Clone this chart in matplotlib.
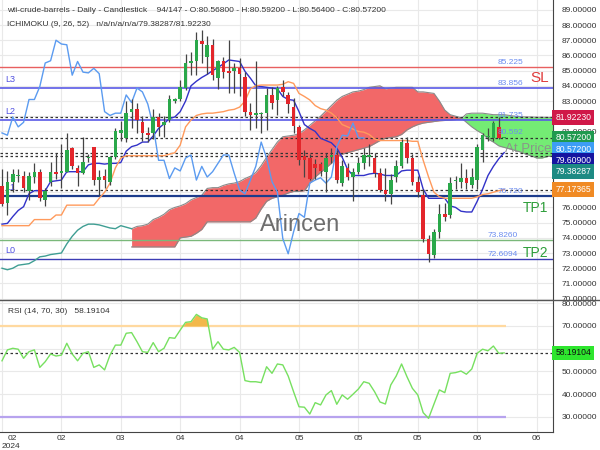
import numpy as np
import matplotlib
matplotlib.use("Agg")
import matplotlib.pyplot as plt
import matplotlib.transforms as mtransforms
from matplotlib.lines import Line2D

plt.rcParams['font.family'] = ['Liberation Sans', 'DejaVu Sans']

# candles (94 daily bars)
opens = [77.4, 76.3, 77.7, 78.1, 78.1, 77.1, 78.0, 78.3, 76.5, 77.7,
         78.35, 78.25, 78.35, 79.9, 78.6, 78.25, 79.25, 80.0, 77.8, 78.1,
         77.7, 79.3, 80.9, 80.55, 82.3, 82.5, 81.6, 80.9, 80.9, 81.95,
         81.4, 81.75, 83.0, 83.1, 83.85, 85.5, 85.6, 86.95, 85.9, 86.7,
         84.5, 85.6, 85.0, 85.0, 85.2, 84.6, 82.25, 82.1, 82.15, 82.2,
         83.4, 83.05, 83.9, 83.4, 82.6, 81.3, 79.4, 79.25, 78.85, 78.85,
         78.35, 79.3, 79.45, 77.6, 78.6, 78.0, 78.35, 78.9, 79.3, 79.25,
         78.25, 77.15, 76.9, 78.0, 78.7, 80.25, 79.25, 77.7, 76.8, 73.95,
         72.9, 74.4, 75.6, 75.5, 77.75, 77.7, 77.95, 77.5, 77.8, 79.8,
         80.6, 80.55, 81.3, 80.568]
highs = [78.5, 78.4, 78.5, 78.5, 78.4, 78.3, 78.9, 78.5, 77.3, 79.0,
         79.6, 80.2, 80.9, 80.0, 78.8, 80.65, 79.5, 80.0, 78.45, 78.5,
         79.4, 81.2, 81.7, 83.0, 83.1, 82.9, 82.0, 81.3, 82.5, 82.2,
         82.0, 83.4, 83.2, 84.4, 86.1, 86.2, 87.55, 87.7, 87.3, 87.1,
         85.7, 85.9, 87.0, 85.5, 85.8, 84.9, 82.9, 85.6, 82.3, 83.85,
         83.9, 84.0, 84.4, 83.6, 83.2, 81.4, 79.8, 79.5, 79.2, 79.0,
         79.6, 79.9, 79.8, 79.1, 78.9, 78.6, 79.3, 79.9, 80.15, 79.6,
         78.6, 78.6, 78.2, 79.1, 80.5, 80.65, 79.5, 78.1, 77.2, 74.2,
         74.6, 76.2, 76.3, 78.0, 78.1, 78.9, 78.5, 78.6, 80.2, 80.9,
         81.2, 81.7, 81.95, 80.592]
lows = [76.1, 75.5, 77.0, 77.7, 77.0, 76.5, 77.6, 76.4, 76.1, 77.4,
        77.9, 77.3, 78.3, 78.5, 77.4, 78.2, 79.0, 77.5, 76.8, 77.3,
        77.5, 79.2, 80.4, 80.3, 81.2, 80.9, 80.4, 80.3, 80.5, 80.7,
        80.6, 81.6, 82.9, 83.0, 83.7, 84.7, 84.7, 85.5, 84.8, 84.4,
        83.8, 84.5, 83.5, 83.5, 83.3, 82.0, 81.1, 81.2, 80.9, 81.1,
        82.5, 82.1, 83.3, 82.2, 80.9, 78.8, 78.0, 77.8, 77.9, 78.1,
        77.0, 78.9, 77.6, 77.4, 77.8, 76.4, 78.2, 78.5, 78.7, 78.0,
        77.0, 76.4, 76.2, 77.7, 78.6, 78.9, 77.5, 76.7, 73.7, 72.4,
        72.7, 74.0, 75.1, 75.3, 77.2, 77.3, 77.2, 77.3, 77.2, 79.0,
        80.4, 80.4, 80.5, 80.564]
closes = [76.2, 77.7, 78.2, 78.15, 77.3, 78.1, 78.35, 76.6, 77.1, 78.35,
          78.2, 78.4, 79.8, 78.7, 78.25, 79.0, 79.3, 77.8, 78.0, 77.8,
          79.3, 81.0, 81.1, 82.2, 82.5, 81.75, 80.9, 80.75, 81.95, 81.3,
          81.6, 83.1, 83.1, 83.95, 85.5, 85.65, 87.0, 86.75, 86.7, 84.7,
          85.6, 84.9, 84.85, 85.15, 84.8, 82.3, 82.05, 82.2, 82.2, 83.4,
          82.9, 83.85, 83.6, 82.8, 81.35, 79.1, 79.1, 77.9, 78.6, 78.4,
          79.25, 79.45, 77.8, 78.7, 78.0, 78.35, 78.9, 79.45, 79.45, 78.25,
          77.15, 76.9, 77.8, 78.7, 80.3, 79.25, 77.7, 77.0, 73.95, 72.95,
          74.4, 75.6, 75.35, 77.6, 77.8, 77.95, 77.6, 78.0, 80.0, 80.75,
          80.7, 81.55, 80.57, 80.572]

# ichimoku lines
tenkan = [74.9, 74.95, 75.4, 75.8, 76.05, 76.9, 77.1, 77.1, 77.1, 77.7,
          77.75, 77.8, 78.35, 78.35, 78.35, 78.35, 78.8, 78.9, 78.9, 78.85,
          78.9, 78.9, 78.95, 79.7, 80.0, 80.1, 80.3, 80.3, 80.7, 81.2,
          81.5, 81.85, 81.95, 82.3, 83.0, 84.0, 84.3, 84.55, 84.75, 85.0,
          85.2, 85.45, 85.7, 85.65, 85.6, 84.95, 84.5, 84.0, 83.95, 83.9,
          83.85, 83.8, 83.3, 83.1, 83.05, 82.3, 81.45, 81.2, 81.0, 80.55,
          80.4, 80.25, 79.9, 79.3, 78.5, 78.1, 78.1, 78.1, 78.2, 78.25,
          78.2, 78.1, 78.1, 78.1, 78.4, 78.45, 78.45, 78.45, 77.2, 76.6,
          76.6, 76.6, 76.6, 76.1, 76.0, 75.75, 75.7, 75.7, 76.4, 77.2,
          78.1, 78.7, 79.2, 79.609]
kijun = [74.8, 74.8, 74.8, 74.8, 74.8, 74.8, 75.2, 75.2, 75.2, 75.2,
         75.5, 75.5, 76.15, 76.15, 76.15, 76.15, 76.15, 76.15, 76.6, 77.0,
         77.6, 78.6, 79.25, 79.4, 79.4, 79.4, 79.4, 79.4, 79.4, 79.4,
         79.4, 79.5, 79.6, 80.1, 81.3, 81.75, 82.05, 82.15, 82.2, 82.2,
         82.25, 82.3, 82.4, 82.45, 82.6, 83.0, 83.8, 84.0, 84.05, 84.05,
         84.05, 84.05, 84.1, 84.27, 84.16, 83.5, 83.3, 83.07, 82.7, 82.5,
         82.4, 82.2, 81.9, 81.45, 81.3, 81.15, 81.0, 80.95, 80.8, 80.5,
         80.4, 80.4, 80.4, 80.4, 80.4, 80.4, 80.35, 80.35, 79.1, 78.0,
         77.0, 76.7, 76.6, 76.6, 76.6, 76.6, 76.6, 76.6, 76.7, 76.85,
         76.9, 77.0, 77.1, 77.17365]
span_b_early = [72.0, 71.9, 72.0, 72.2, 72.25, 72.3, 72.5, 72.75, 72.8, 72.9,
                72.95, 73.0, 73.6, 74.1, 74.5, 74.75, 74.9, 74.9, 74.85, 74.75,
                74.65, 74.6, 74.8, 74.7, 74.6]
cloud_start = 24
span_b = [74.6, 74.75, 74.8, 74.9, 75.2, 75.35, 75.55, 75.85, 76.0, 76.1,
          76.25, 76.5, 76.65, 76.8, 77.25, 77.3, 77.3, 77.45, 77.55, 77.6,
          77.7, 77.9, 78.05, 78.3, 78.75, 79.3, 79.8, 80.3, 80.65, 80.7,
          80.75, 80.85, 81.1, 81.4, 81.7, 82.0, 82.35, 82.7, 83.05, 83.3,
          83.45, 83.6, 83.65, 83.75, 83.9, 83.95, 84.0, 83.8, 83.85, 83.9,
          83.9, 83.9, 83.9, 83.6, 83.6, 83.55, 83.5, 83.0, 82.4, 82.1,
          82.0, 81.9, 81.6, 81.3, 81.05, 80.85, 80.5, 80.3, 80.05, 79.95,
          79.85, 79.75, 79.65, 79.5, 79.4, 79.25, 79.25, 79.35, 79.38287]
span_a = [73.4, 73.4, 73.4, 73.4, 73.4, 73.4, 73.4, 73.4, 73.4, 74.0,
          74.05, 74.1, 74.3, 74.55, 75.05, 75.05, 75.05, 75.05, 75.05, 75.05,
          75.05, 75.05, 75.05, 75.3, 75.9, 76.4, 76.6, 76.7, 76.8, 76.95,
          77.05, 77.05, 77.1, 77.6, 78.0, 78.3, 78.6, 78.9, 79.3, 79.5,
          79.6, 79.7, 79.8, 79.9, 80.0, 80.2, 80.4, 80.55, 80.6, 80.65,
          80.8, 81.1, 81.3, 81.45, 81.55, 81.6, 81.65, 81.7, 81.72, 81.75,
          81.78, 81.82, 82.15, 82.2, 82.2, 82.2, 82.15, 82.1, 82.1, 82.1,
          82.05, 82.0, 81.97, 81.95, 81.95, 81.93, 81.93, 81.92, 81.9223]
chikou_shift = 26

rsi = [54.7, 59.5, 60.2, 59.8, 55.8, 58.7, 59.5, 51.8, 54.3, 57.7,
       56.8, 57.2, 62.4, 57.7, 54.7, 58.0, 58.7, 51.8, 52.9, 50.7,
       57.2, 61.6, 61.6, 66.8, 67.1, 63.1, 58.7, 58.4, 62.7, 58.7,
       60.2, 64.9, 64.6, 68.2, 71.6, 71.9, 75.1, 73.6, 73.1, 59.8,
       63.1, 59.8, 59.5, 60.6, 58.4, 46.0, 45.5, 45.5, 45.1, 52.1,
       49.2, 53.3, 52.9, 48.0, 41.1, 34.5, 34.3, 31.3, 36.3, 35.3,
       39.7, 41.6, 35.6, 39.7, 37.8, 40.0, 42.3, 45.5, 44.8, 41.1,
       36.6, 35.7, 44.1, 48.0, 53.3, 47.7, 42.6, 39.7, 31.9, 29.4,
       35.7, 41.9, 40.7, 49.2, 49.5, 50.2, 48.8, 51.1, 58.0, 59.8,
       59.1, 61.2, 58.0, 58.19104]

# support / resistance levels
level_vals = [85.225, 83.856, 81.735, 76.720, 73.826, 72.6094]
level_text = ['85.225', '83.856', '81.735', '76.720', '73.8260', '72.6094']
level_cols = ['#e86060', '#5a5ae6', '#5a5ae6', '#1c3c8c', '#7ab87a', '#3c3cb4']
level_lw = [1.0, 1.2, 1.2, 1.6, 1.0, 1.0]
at_price = 80.592
dash_vals = [81.92230, 80.57200, 79.60900, 79.38287, 77.17365]
box_vals = [81.92230, 80.57200, 80.57200, 79.60900, 79.38287, 77.17365]
box_cols = ['#d01848', '#1f9a4f', '#3d9df5', '#1515a0', '#1d8a83', '#f08a24']

date_ticks = [0, 11, 22, 33, 44, 55, 66, 77, 88, 99]
date_labels = ['02', '02', '03', '04', '04', '05', '05', '05', '06', '06']

# stack the right-hand price boxes so they do not overlap
box_pos = []
for v in box_vals:
    box_pos.append(v if not box_pos else min(v, box_pos[-1] - 0.74))


def price_fmt(v, p):
    # labels hidden behind a price box are not shown
    if any(abs(v - b) < 0.4 for b in box_pos):
        return ''
    return f'{v:.5f}'


fig = plt.figure(figsize=(6, 4.5), dpi=100)
ax = fig.add_axes([0, 150 / 450, 553 / 600, 300 / 450])
ax2 = fig.add_axes([0, 18 / 450, 553 / 600, 132 / 450], sharex=ax)

ax.set_xlim(-0.37, 102.04)
ax.set_ylim(69.91, 89.645)
ax.set_yticks(np.arange(70, 90))
ax.yaxis.set_major_formatter(price_fmt)
ax.yaxis.tick_right()
ax.tick_params(axis='y', length=0, pad=6, labelsize=6, labelcolor='#333333')
ax.set_xticks(date_ticks)
ax.tick_params(axis='x', length=0, labelbottom=False)
ax.grid(True, color='#e9e9e9', lw=0.8)
ax.set_axisbelow(True)
for s in ['top', 'left', 'bottom']:
    ax.spines[s].set_visible(False)
ax.spines['right'].set_color('#444444')

x = np.arange(len(closes))
xc = np.arange(cloud_start, cloud_start + len(span_a))
sa = np.array(span_a)
sb = np.array(span_b)

# cloud
ax.fill_between(xc, sa, sb, where=sb >= sa, interpolate=True, color='#f26868', lw=0, zorder=1)
ax.fill_between(xc, sa, sb, where=sa > sb, interpolate=True, color='#74ec74', lw=0, zorder=1)
ax.plot(xc, sa, color='#8a8a8a', lw=0.8, zorder=1.5)
ax.plot(xc, sb, color='#8a8a8a', lw=0.8, zorder=1.5)
ax.plot(np.arange(len(span_b_early)), span_b_early, color='#3f9e93', lw=1, zorder=3)

# levels
for v, col, lw in zip(level_vals, level_cols, level_lw):
    ax.axhline(v, color=col, lw=lw, zorder=2)
for v in dash_vals:
    ax.axhline(v, color='#333333', lw=0.9, ls=(0, (2, 2)), zorder=2)

# indicator lines
ax.plot(x, tenkan, color='#3232c8', lw=1, zorder=3)
ax.plot(x, kijun, color='#ff9a5c', lw=1, zorder=3)
cl = np.array(closes)
ax.plot(x[chikou_shift:] - chikou_shift, cl[chikou_shift:], color='#5b9bf0', lw=1, zorder=3)

# labels behind candles
for name, v in [('L3', level_vals[1]), ('L2', level_vals[2]), ('L1', level_vals[3]), ('L0', level_vals[5])]:
    ax.annotate(name, (0.55, v), xytext=(0, 3), textcoords='offset points',
                fontsize=6.5, color='#5050e0', va='bottom', zorder=3.5)

# candles
o = np.array(opens)
h = np.array(highs)
l = np.array(lows)
up = cl >= o
ax.vlines(x, l, h, color='#444444', lw=0.9, zorder=4)
ax.bar(x, np.maximum(np.abs(cl - o), 0.05), bottom=np.minimum(o, cl), width=0.66,
       color=np.where(up, '#2aa84a', '#e3262b'), lw=0, zorder=5)

# level values
for v, t in zip(level_vals, level_text):
    xi = 90.0 if len(t) > 6 else 91.7
    ax.annotate(t, (xi, v), xytext=(0, 1), textcoords='offset points',
                fontsize=6, color='#6b8cf0', va='bottom', zorder=6)
ax.annotate(f'{at_price:.3f}', (91.7, at_price), xytext=(0, 1), textcoords='offset points',
            fontsize=6, color='#6b8cf0', va='bottom', zorder=6)
ax.text(93.1, 79.84, 'At Price', fontsize=9.5, color='#8c8c8c', va='center', zorder=6, alpha=0.9)
ax.text(97.8, 84.5, 'SL', fontsize=11, color='#e03c3c', va='center', zorder=6)
ax.text(96.5, 75.96, 'TP1', fontsize=10, color='#2e9e3a', va='center', zorder=6)
ax.text(96.5, 73.0, 'TP2', fontsize=10, color='#2e9e3a', va='center', zorder=6)
ax.text(55.2, 74.84, 'Arincen', fontsize=17, color='#6e6e6e', ha='center', va='center', zorder=6)

trans = mtransforms.blended_transform_factory(ax.transAxes, ax.transData)
for v, pos, col in zip(box_vals, box_pos, box_cols):
    ax.text(1.004, pos, f'{v:.5f}', transform=trans, ha='left', va='center', fontsize=6.2,
            color='white', clip_on=False, zorder=10,
            bbox=dict(boxstyle='square,pad=0.32', fc=col, ec='none'))

fig.text(7 / 600, 1 - 10 / 450,
         'wti-crude-barrels - Daily - Candlestick    94/147 - O:80.56800 - H:80.59200 - L:80.56400 - C:80.57200',
         fontsize=6, color='#333333', va='center')
fig.text(7 / 600, 1 - 25 / 450, 'ICHIMOKU (9, 26, 52)   n/a/n/a/n/a/79.38287/81.92230',
         fontsize=6, color='#333333', va='center')

# RSI panel
r = np.array(rsi)


def rsi_fmt(v, p):
    if abs(v - r[-1]) < 2.5:
        return ''
    return f'{v:.5f}'


ax2.set_ylim(23.4, 81.43)
ax2.set_yticks(np.arange(30, 90, 10))
ax2.yaxis.set_major_formatter(rsi_fmt)
ax2.yaxis.tick_right()
ax2.tick_params(axis='y', length=0, pad=6, labelsize=6, labelcolor='#333333')
ax2.tick_params(axis='x', length=0, labelbottom=False)
ax2.grid(True, color='#e9e9e9', lw=0.8)
ax2.set_axisbelow(True)
for s in ['top', 'left']:
    ax2.spines[s].set_visible(False)
ax2.spines['right'].set_color('#444444')
ax2.spines['bottom'].set_color('#444444')

ax2.hlines(70, -0.4, x[-1] + 0.3, color='#ffd9a0', lw=1.6, zorder=2)
ax2.hlines(30, -0.4, x[-1] + 0.3, color='#b7a3ee', lw=1.6, zorder=2)
ax2.axhline(r[-1], color='#333333', lw=0.9, ls=(0, (2, 2)), zorder=2)
ax2.fill_between(x, r, 70, where=r > 70, interpolate=True, color='#f2b84b', lw=0, zorder=2.5)
ax2.plot(x, r, color='#77e060', lw=1, zorder=3)
ax2.text(0.014, 0.91, f'RSI (14, 70, 30)   {r[-1]:.5f}', transform=ax2.transAxes,
         fontsize=6, color='#333333', va='center')
trans2 = mtransforms.blended_transform_factory(ax2.transAxes, ax2.transData)
ax2.text(1.004, r[-1], f'{r[-1]:.5f}', transform=trans2, ha='left', va='center', fontsize=6.2,
         color='#111111', clip_on=False, zorder=10,
         bbox=dict(boxstyle='square,pad=0.32', fc='#2ee62e', ec='none'))

transx = mtransforms.blended_transform_factory(ax2.transData, ax2.transAxes)
for i, (t, lab) in enumerate(zip(date_ticks, date_labels)):
    xt = t + 1.85 if i == 0 else t
    ax2.text(xt, -0.025, lab, transform=transx, ha='center', va='top', fontsize=6, color='#333333')
ax2.text(1.6, -0.085, '2024', transform=transx, ha='center', va='top', fontsize=6, color='#333333')

fig.add_artist(Line2D([0, 1], [150 / 450, 150 / 450], color='#555555', lw=1))

fig.savefig('out.png', dpi=100)
